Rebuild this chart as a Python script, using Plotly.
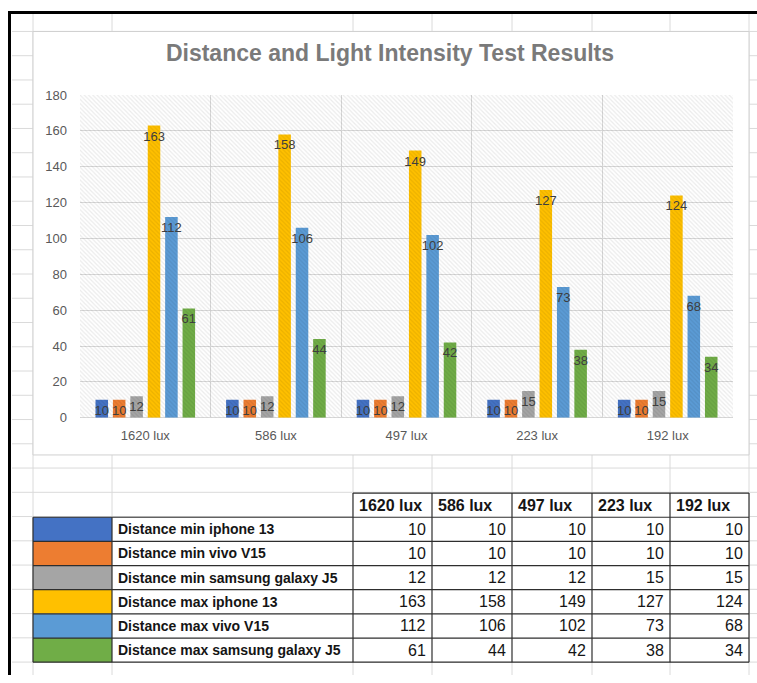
import plotly.graph_objects as go

W, H = 757, 683

categories = ["1620 lux", "586 lux", "497 lux", "223 lux", "192 lux"]
series_names = [
    "Distance min iphone 13",
    "Distance min vivo V15",
    "Distance min samsung galaxy J5",
    "Distance max iphone 13",
    "Distance max vivo V15",
    "Distance max samsung galaxy J5",
]
min_iphone13 = [10, 10, 10, 10, 10]
min_vivoV15 = [10, 10, 10, 10, 10]
min_samsungJ5 = [12, 12, 12, 15, 15]
max_iphone13 = [163, 158, 149, 127, 124]
max_vivoV15 = [112, 106, 102, 73, 68]
max_samsungJ5 = [61, 44, 42, 38, 34]
series_values = [min_iphone13, min_vivoV15, min_samsungJ5,
                 max_iphone13, max_vivoV15, max_samsungJ5]
colors = ["#4472C4", "#ED7D31", "#A5A5A5", "#FFC000", "#5B9BD5", "#70AD47"]
y_ticks = [0, 20, 40, 60, 80, 100, 120, 140, 160, 180]

title = "Distance and Light Intensity Test Results"


def px(x):
    return x / W


def py(y):
    return 1 - y / H


FONT = "Liberation Sans, Arial, sans-serif"
xpos = list(range(len(categories)))

fig = go.Figure()

# hatched plot-area background
x0, x1 = -0.5, len(categories) - 0.5
fig.add_trace(go.Scatter(
    x=[x0, x1, x1, x0, x0], y=[y_ticks[0]] * 2 + [y_ticks[-1]] * 2 + [y_ticks[0]],
    mode="lines", fill="toself", line=dict(width=0),
    fillcolor="rgba(0,0,0,0)",
    fillpattern=dict(shape="\\", fgcolor="rgba(0,0,0,0.16)",
                     bgcolor="rgba(255,255,255,0)", size=3, solidity=0.4),
    hoverinfo="skip", showlegend=False,
))

for name, vals, col in zip(series_names, series_values, colors):
    fig.add_trace(go.Bar(
        x=xpos, y=vals, name=name, marker=dict(color=col, line=dict(width=0)),
        text=[str(v) for v in vals], textposition="inside",
        insidetextanchor="end", constraintext="none", textangle=0,
        textfont=dict(color="#404040", size=13, family=FONT),
        showlegend=False, hoverinfo="x+y+name",
    ))

shapes = []
annotations = []
grid_col = "#dadada"
line_col = "#2e2e2e"

# spreadsheet grid lines
col_edges = [33, 112, 353, 432, 512, 592, 670, 749]
for gx in col_edges:
    shapes.append(dict(type="line", xref="paper", yref="paper", layer="below",
                       x0=px(gx), x1=px(gx), y0=py(7), y1=py(683),
                       line=dict(color=grid_col, width=1)))
k = 0
while 25 + k * 24.8 < H:
    gy = 25 + k * 24.8
    shapes.append(dict(type="line", xref="paper", yref="paper", layer="below",
                       x0=px(12), x1=px(757), y0=py(gy), y1=py(gy),
                       line=dict(color=grid_col, width=1)))
    k += 1

# chart area box
shapes.append(dict(type="rect", xref="paper", yref="paper", layer="below",
                   x0=px(33), x1=px(749), y0=py(458), y1=py(25),
                   fillcolor="white", line=dict(color="#d0d0d0", width=1)))

# data table below the chart (acts as legend)
row_top, row_h = 497, 24.7
n_rows = len(series_names)
row_edges = [row_top + i * row_h for i in range(n_rows + 2)]
shapes.append(dict(type="rect", xref="paper", yref="paper", layer="below",
                   x0=px(col_edges[2]), x1=px(col_edges[-1]),
                   y0=py(row_edges[1]), y1=py(row_edges[0]),
                   fillcolor="white", line=dict(width=0)))
shapes.append(dict(type="rect", xref="paper", yref="paper", layer="below",
                   x0=px(col_edges[0]), x1=px(col_edges[-1]),
                   y0=py(row_edges[-1]), y1=py(row_edges[1]),
                   fillcolor="white", line=dict(width=0)))
for i, col in enumerate(colors):
    shapes.append(dict(type="rect", xref="paper", yref="paper", layer="below",
                       x0=px(col_edges[0]), x1=px(col_edges[1]),
                       y0=py(row_edges[i + 2]), y1=py(row_edges[i + 1]),
                       fillcolor=col, line=dict(width=0)))
shapes.append(dict(type="line", xref="paper", yref="paper",
                   x0=px(col_edges[2]), x1=px(col_edges[-1]),
                   y0=py(row_edges[0]), y1=py(row_edges[0]),
                   line=dict(color=line_col, width=1.2)))
for ry in row_edges[1:]:
    shapes.append(dict(type="line", xref="paper", yref="paper",
                       x0=px(col_edges[0]), x1=px(col_edges[-1]),
                       y0=py(ry), y1=py(ry),
                       line=dict(color=line_col, width=1.2)))
for j, cx in enumerate(col_edges):
    top = row_edges[0] if j >= 2 else row_edges[1]
    shapes.append(dict(type="line", xref="paper", yref="paper",
                       x0=px(cx), x1=px(cx), y0=py(row_edges[-1]), y1=py(top),
                       line=dict(color=line_col, width=1.2)))

for j, cat in enumerate(categories):
    annotations.append(dict(
        text=f"<b>{cat}</b>", xref="paper", yref="paper", showarrow=False,
        x=px(col_edges[j + 2] + 4), y=py(row_edges[0] + row_h / 2),
        xanchor="left", yanchor="middle",
        font=dict(family=FONT, size=16, color="#151515")))
for i, name in enumerate(series_names):
    yc = py(row_edges[i + 1] + row_h / 2)
    annotations.append(dict(
        text=f"<b>{name}</b>", xref="paper", yref="paper", showarrow=False,
        x=px(col_edges[1] + 4), y=yc, xanchor="left", yanchor="middle",
        font=dict(family=FONT, size=14, color="#151515")))
    for j in range(len(categories)):
        annotations.append(dict(
            text=str(series_values[i][j]), xref="paper", yref="paper",
            showarrow=False, x=px(col_edges[j + 3] - 4), y=yc,
            xanchor="right", yanchor="middle",
            font=dict(family=FONT, size=16, color="#151515")))

# black frame
shapes.append(dict(type="line", xref="paper", yref="paper", layer="above",
                   x0=px(8), x1=px(757), y0=py(5.5), y1=py(5.5),
                   line=dict(color="black", width=3)))
shapes.append(dict(type="line", xref="paper", yref="paper", layer="above",
                   x0=px(9.5), x1=px(9.5), y0=py(4), y1=py(683),
                   line=dict(color="black", width=3)))

fig.update_layout(
    width=W, height=H, margin=dict(l=0, r=0, t=0, b=0),
    paper_bgcolor="white", plot_bgcolor="white",
    barmode="group", bargap=0.2, bargroupgap=0.28,
    title=dict(text=f"<b>{title}</b>", x=px(390), y=py(47),
               xref="paper", yref="paper", xanchor="center", yanchor="middle",
               font=dict(family=FONT, size=23, color="#7a7a7a")),
    shapes=shapes, annotations=annotations,
    xaxis=dict(domain=[px(80), px(733)], range=[x0, x1],
               tickmode="array", tickvals=xpos, ticktext=categories,
               showgrid=False, zeroline=False, showline=False, ticks="",
               tickfont=dict(family=FONT, size=13, color="#595959"),
               ticklabelstandoff=8,
               minor=dict(tick0=0.5, dtick=1, showgrid=True,
                          gridcolor="#d9d9d9", gridwidth=1, ticks="")),
    yaxis=dict(domain=[py(420), py(90)], range=[y_ticks[0], y_ticks[-1]],
               tickmode="array", tickvals=y_ticks,
               showgrid=True, gridcolor="#d9d9d9", gridwidth=1,
               zeroline=True, zerolinecolor="#d9d9d9", zerolinewidth=1,
               showline=False, ticks="",
               tickfont=dict(family=FONT, size=13, color="#595959"),
               ticklabelstandoff=12),
)

fig.write_html("out.html", config={"displayModeBar": False},
               post_script="document.body.style.margin='0px';"
                           "document.documentElement.style.overflow='hidden';")
